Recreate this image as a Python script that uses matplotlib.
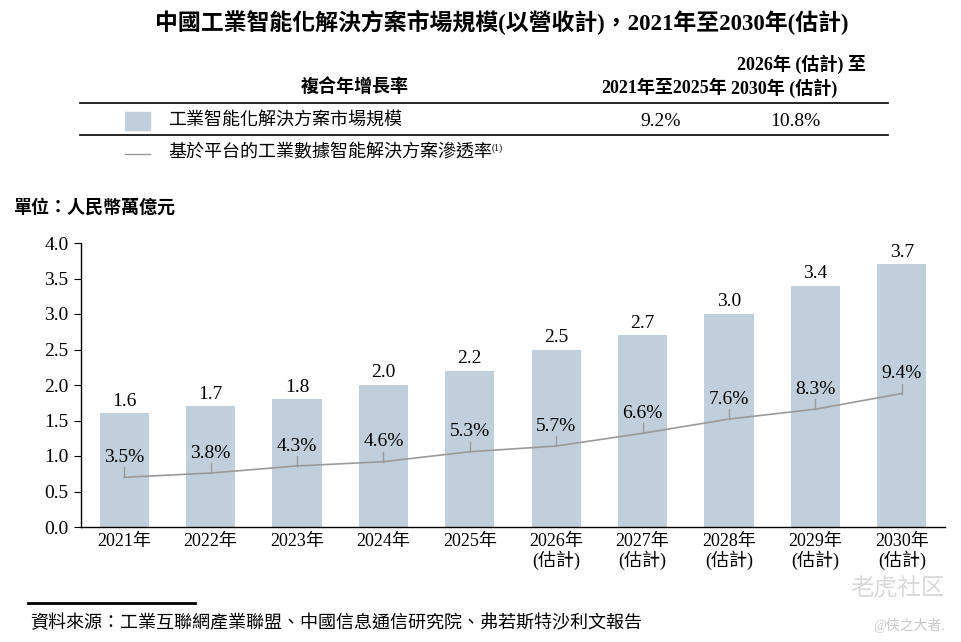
import matplotlib
matplotlib.use("Agg")
import matplotlib.pyplot as plt
from matplotlib.lines import Line2D
from matplotlib.patches import Rectangle

years = ["2021年", "2022年", "2023年", "2024年", "2025年",
         "2026年\n(估計)", "2027年\n(估計)", "2028年\n(估計)", "2029年\n(估計)", "2030年\n(估計)"]
market = [1.6, 1.7, 1.8, 2.0, 2.2, 2.5, 2.7, 3.0, 3.4, 3.7]
penetration = [3.5, 3.8, 4.3, 4.6, 5.3, 5.7, 6.6, 7.6, 8.3, 9.4]
cagr = ["9.2%", "10.8%"]

bar_color = "#c1cfdd"
line_color = "#9a9a9a"
fam = ["Liberation Serif", "Noto Sans CJK TC"]
plt.rcParams["font.family"] = fam

fig = plt.figure(figsize=(9.61, 6.42), dpi=100)
W, H = 961, 642


def fx(x):
    return x / W


def fy(y):
    return 1 - y / H


# title
fig.text(fx(502), fy(22), "中國工業智能化解決方案市場規模(以營收計)，2021年至2030年(估計)",
         ha="center", va="center", fontsize=16.5, fontweight="bold")

# table header
fig.text(fx(355), fy(88), "複合年增長率", ha="center", va="center", fontsize=13, fontweight="bold")
fig.text(fx(727), fy(88), "2021年至2025年", ha="right", va="center", fontsize=13, fontweight="bold")
fig.text(fx(866), fy(64), "2026年 (估計) 至", ha="right", va="center", fontsize=13, fontweight="bold")
fig.text(fx(731), fy(88), "2030年 (估計)", ha="left", va="center", fontsize=13, fontweight="bold")

for yy in (103, 135):
    fig.add_artist(Line2D([fx(80), fx(888)], [fy(yy), fy(yy)], color="black", lw=1.2))

fig.add_artist(Rectangle((fx(125), fy(130)), fx(25), 18 / H, color=bar_color, transform=fig.transFigure))
fig.text(fx(168), fy(120), "工業智能化解決方案市場規模", ha="left", va="center", fontsize=13)
fig.text(fx(661), fy(121), cagr[0], ha="center", va="center", fontsize=14)
fig.text(fx(795), fy(121), cagr[1], ha="center", va="center", fontsize=14)

fig.add_artist(Line2D([fx(125), fx(150)], [fy(154), fy(154)], color=line_color, lw=1))
fig.text(fx(168), fy(153), "基於平台的工業數據智能解決方案滲透率", ha="left", va="center", fontsize=13)
fig.text(fx(492), fy(148), "(1)", ha="left", va="center", fontsize=7)

fig.text(fx(13), fy(208), "單位：人民幣萬億元", ha="left", va="center", fontsize=13, fontweight="bold")

# chart
ax = fig.add_axes([fx(81), fy(527), fx(945 - 81), (527 - 243) / H])
x = list(range(len(years)))
ax.bar(x, market, width=0.57, color=bar_color)
for xi, v in zip(x, market):
    ax.text(xi, v + 0.05, f"{v:.1f}", ha="center", va="bottom", fontsize=14)

ax.set_xlim(-0.5, len(years) - 0.5)
ax.set_ylim(0, 4)
ax.set_yticks([0, 0.5, 1, 1.5, 2, 2.5, 3, 3.5, 4])
ax.set_yticklabels([f"{t:.1f}" for t in ax.get_yticks()], fontsize=14)
ax.set_xticks(x)
ax.set_xticklabels(years, fontsize=13, linespacing=1.05)
ax.tick_params(axis="x", length=0, pad=4)
ax.tick_params(axis="y", length=5, direction="out", pad=4)
for s in ("top", "right"):
    ax.spines[s].set_visible(False)
ax.spines["left"].set_linewidth(1)
ax.spines["bottom"].set_linewidth(1)

ax2 = ax.twinx()
ax2.set_ylim(0, 20)
ax2.axis("off")
ax2.plot(x, penetration, color=line_color, lw=1.2)
for xi, p in zip(x, penetration):
    ax2.plot([xi, xi], [p, p + 0.7], color=line_color, lw=1)
    ax2.text(xi, p + 0.8, f"{p:.1f}%", ha="center", va="bottom", fontsize=14)

# source
fig.add_artist(Line2D([fx(28), fx(195)], [fy(603), fy(603)], color="black", lw=2))
fig.text(fx(30), fy(624), "資料來源：工業互聯網產業聯盟、中國信息通信研究院、弗若斯特沙利文報告",
         ha="left", va="center", fontsize=13)

# watermark
fig.text(fx(945), fy(589), "老虎社区", ha="right", va="center", fontsize=17, color="#d8d8d8")
fig.text(fx(945), fy(625), "@侠之大者.", ha="right", va="center", fontsize=10, color="#c8c8c8")

fig.savefig("out.png", dpi=100)
